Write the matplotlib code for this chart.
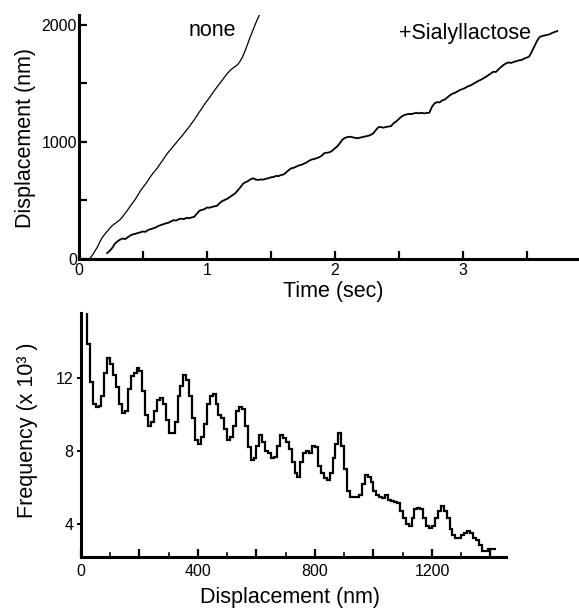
import numpy as np
import matplotlib
matplotlib.use("Agg")
import matplotlib.pyplot as plt
from matplotlib.ticker import MultipleLocator, FixedLocator

plt.rcParams["font.family"] = ["Liberation Sans", "DejaVu Sans"]

# ---- Displacement traces (time in s, displacement in nm) ----
time_none = [0.08, 0.10, 0.12, 0.14, 0.16, 0.18, 0.20, 0.22, 0.24, 0.26, 0.28,
             0.30, 0.32, 0.34, 0.36, 0.38, 0.40, 0.42, 0.44, 0.46, 0.48, 0.50,
             0.52, 0.54, 0.56, 0.58, 0.60, 0.62, 0.64, 0.66, 0.68, 0.70, 0.72,
             0.74, 0.76, 0.78, 0.80, 0.82, 0.84, 0.86, 0.88, 0.90, 0.92, 0.94,
             0.96, 0.98, 1.00, 1.02, 1.04, 1.06, 1.08, 1.10, 1.12, 1.14, 1.16,
             1.18, 1.20, 1.22, 1.24, 1.26, 1.28, 1.30, 1.32, 1.34, 1.36, 1.38,
             1.40, 1.42, 1.44]
disp_none = [0, 25, 60, 95, 140, 180, 210, 235, 262, 285, 302,
             318, 335, 360, 390, 418, 450, 480, 510, 545, 582, 612,
             640, 672, 705, 735, 760, 790, 822, 852, 885, 915, 940,
             968, 992, 1020, 1045, 1072, 1100, 1128, 1158, 1188, 1220, 1255,
             1285, 1320, 1350, 1378, 1410, 1442, 1470, 1500, 1528, 1558, 1585,
             1610, 1628, 1645, 1660, 1690, 1730, 1782, 1840, 1900, 1955, 2010,
             2060, 2105, 2150]

time_sialyl = np.round(np.arange(0.22, 3.741, 0.02), 2)
disp_sialyl = [50, 70, 95, 130, 150, 165, 175, 170, 185, 200,
               210, 215, 222, 228, 235, 232, 248, 255, 262, 270,
               282, 290, 298, 305, 310, 322, 332, 328, 340, 345,
               340, 352, 348, 355, 360, 385, 410, 420, 425, 440,
               438, 445, 450, 455, 478, 495, 505, 515, 530, 545,
               560, 585, 610, 640, 655, 665, 680, 690, 680, 675,
               680, 678, 685, 690, 698, 700, 710, 708, 718, 722,
               740, 760, 775, 780, 790, 800, 805, 815, 825, 840,
               850, 855, 862, 870, 885, 905, 908, 912, 925, 945,
               962, 990, 1020, 1035, 1042, 1045, 1040, 1035, 1032, 1038,
               1042, 1048, 1052, 1060, 1072, 1100, 1125, 1128, 1122, 1128,
               1132, 1135, 1160, 1175, 1195, 1215, 1228, 1235, 1240, 1238,
               1245, 1248, 1245, 1250, 1244, 1248, 1250, 1300, 1330, 1340,
               1338, 1355, 1362, 1380, 1398, 1412, 1420, 1432, 1445, 1452,
               1462, 1475, 1482, 1495, 1508, 1520, 1530, 1542, 1555, 1570,
               1585, 1600, 1598, 1620, 1640, 1658, 1672, 1680, 1675, 1685,
               1690, 1698, 1700, 1712, 1720, 1730, 1770, 1815, 1860, 1895,
               1905, 1910, 1915, 1920, 1932, 1940, 1948]

# ---- Displacement histogram (10 nm bins starting at 10 nm, counts x 10^3) ----
hist_start, hist_width = 10, 10
hist_counts = [18.0, 13.9, 11.8, 10.6, 10.4, 10.5, 11.0, 12.3, 13.1, 12.8,
               12.2, 11.5, 10.6, 10.1, 10.2, 11.4, 12.1, 12.3, 12.55, 12.4,
               11.3, 10.0, 9.4, 9.6, 10.2, 10.8, 10.9, 10.6, 9.7, 9.0,
               9.0, 9.6, 11.0, 11.6, 12.2, 11.9, 11.0, 9.8, 8.6, 8.4,
               8.8, 9.5, 10.6, 11.0, 11.15, 10.6, 10.0, 9.8, 9.2, 8.6,
               8.8, 9.4, 10.2, 10.4, 10.3, 9.4, 8.2, 7.5, 7.6, 8.3,
               8.9, 8.5, 8.0, 7.9, 7.6, 7.7, 8.3, 8.9, 8.7, 8.5,
               8.1, 7.4, 6.8, 6.6, 7.4, 7.9, 8.0, 7.9, 8.3, 8.2,
               7.2, 6.8, 6.5, 6.4, 6.8, 7.6, 8.4, 9.0, 8.3, 7.0,
               5.8, 5.5, 5.5, 5.5, 5.6, 6.2, 6.7, 6.6, 6.3, 5.8,
               5.6, 5.5, 5.45, 5.6, 5.3, 5.25, 5.2, 5.15, 4.7, 4.3,
               4.0, 3.9, 4.3, 4.8, 4.85, 4.8, 4.3, 3.9, 3.75, 3.9,
               4.3, 4.7, 4.96, 4.7, 4.3, 3.7, 3.4, 3.2, 3.25, 3.4,
               3.5, 3.6, 3.5, 3.25, 3.1, 2.85, 2.5, 2.5, 2.6, 2.6,
               2.65]
hist_edges = hist_start + hist_width * np.arange(len(hist_counts) + 1)

top_yticks = [0, 1000, 2000]
top_xticks = [0, 1, 2, 3]
bot_xticks = [0, 400, 800, 1200]
bot_yticks = [4, 8, 12]

W, H = 579, 608
fig = plt.figure(figsize=(W / 100, H / 100), dpi=100)

SPINE = 2.2
TICK_FS = 11.5
LABEL_FS = 15.5

# ---------------- Top panel ----------------
ax1 = fig.add_axes([79 / W, 1 - 259 / H, (W - 79) / W, 244 / H])
ax1.plot(time_none, disp_none, color="black", lw=0.9)
ax1.plot(time_sialyl, disp_sialyl, color="black", lw=1.3)
ax1.set_xlim(0, 3.91)
ax1.set_ylim(0, 2085)
for s in ("top", "right"):
    ax1.spines[s].set_visible(False)
for s in ("left", "bottom"):
    ax1.spines[s].set_linewidth(SPINE)
ax1.xaxis.set_major_locator(FixedLocator(top_xticks))
ax1.xaxis.set_minor_locator(MultipleLocator(0.5))
ax1.yaxis.set_major_locator(FixedLocator(top_yticks))
ax1.yaxis.set_minor_locator(MultipleLocator(500))
ax1.tick_params(axis="both", which="both", direction="in", width=1.6,
                labelsize=TICK_FS)
ax1.tick_params(axis="x", which="both", length=6, pad=3)
ax1.tick_params(axis="y", which="both", length=6, pad=1.5)
ax1.set_xlabel("Time (sec)", fontsize=LABEL_FS, va="center")
ax1.xaxis.set_label_coords((333 - 79) / 500, (259 - 292) / 244)
ax1.set_ylabel("Displacement (nm)", fontsize=LABEL_FS, va="center")
ax1.yaxis.set_label_coords((26 - 79) / 500, (259 - 138) / 244)
ax1.text((212 - 79) / 500, (259 - 31) / 244, "none", transform=ax1.transAxes,
         ha="center", va="center", fontsize=LABEL_FS)
ax1.text((465 - 79) / 500, (259 - 33) / 244, "+Sialyllactose",
         transform=ax1.transAxes, ha="center", va="center", fontsize=LABEL_FS)

# ---------------- Bottom panel ----------------
ax2 = fig.add_axes([81 / W, 1 - 556.7 / H, (506 - 81) / W, 244 / H])
ax2.stairs(hist_counts, hist_edges, baseline=None, color="black", lw=1.6)
ax2.set_xlim(0, 1453)
ax2.set_ylim(2.2, 15.6)
for s in ("top", "right"):
    ax2.spines[s].set_visible(False)
for s in ("left", "bottom"):
    ax2.spines[s].set_linewidth(SPINE)
ax2.xaxis.set_major_locator(FixedLocator(bot_xticks))
ax2.xaxis.set_minor_locator(FixedLocator([200, 600, 1000, 1400]))
ax2.yaxis.set_major_locator(FixedLocator(bot_yticks))
ax2.tick_params(axis="x", which="both", direction="in", length=6, width=1.6,
                pad=5, labelsize=TICK_FS)
ax2.tick_params(axis="y", which="major", direction="out", length=3, width=1.4,
                pad=2.5, labelsize=TICK_FS)
# short marks between the 200 nm ticks
for x in range(100, 1500, 200):
    ax2.plot([x, x], [2.2, 2.4], color="black", lw=1.2, clip_on=False)
ax2.set_xlabel("Displacement (nm)", fontsize=LABEL_FS, va="center")
ax2.xaxis.set_label_coords((290 - 81) / 425, (556.7 - 597) / 244)
ax2.set_ylabel("Frequency (x 10³ )", fontsize=LABEL_FS, va="center")
ax2.yaxis.set_label_coords((28 - 81) / 425, (556.7 - 430) / 244)

fig.savefig("out.png", dpi=100)
